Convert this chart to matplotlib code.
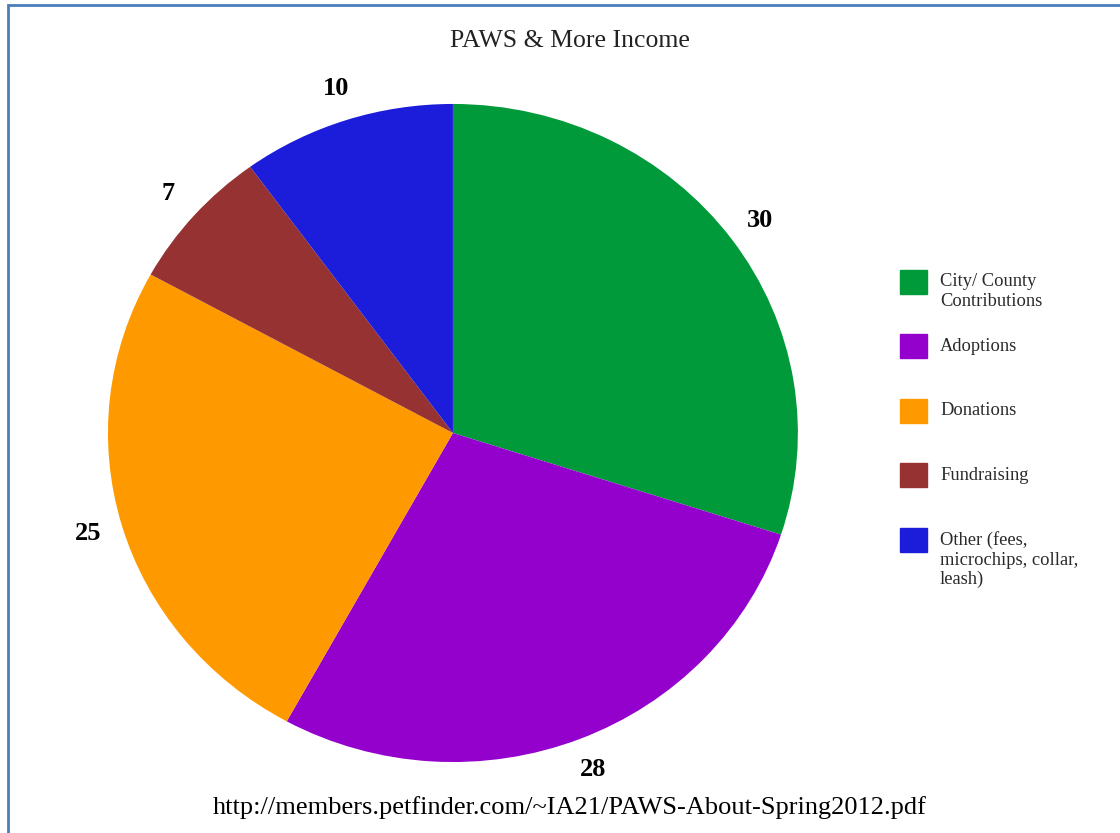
import matplotlib
matplotlib.use("Agg")
import matplotlib.pyplot as plt
from matplotlib.patches import Rectangle

categories = ["City/ County\nContributions", "Adoptions", "Donations",
              "Fundraising", "Other (fees,\nmicrochips, collar,\nleash)"]
values = [30, 28, 25, 7, 10]
colors = ["#009A3A", "#9400CC", "#FF9900", "#963232", "#1C1CDB"]

plt.rcParams['font.family'] = ['Liberation Serif', 'DejaVu Serif']

W, H = 1120, 833
fig = plt.figure(figsize=(W / 100, H / 100), dpi=100)

# blue frame around the picture
fig.patches.append(Rectangle((8 / W, -0.1), 1.2, (H - 5) / H + 0.1,
                             transform=fig.transFigure, fill=False,
                             edgecolor="#4A7EBB", linewidth=2))

ax = fig.add_axes([0.0964, 0.0852, 0.616, 0.790])
wedges, texts = ax.pie(values, labels=[str(v) for v in values], colors=colors,
                       startangle=90, counterclock=False, labeldistance=1.1,
                       textprops=dict(fontsize=19, fontweight='bold'))
for t in texts:
    t.set_ha('center')
    t.set_va('center')
ax.set_aspect('auto')
ax.set_xlim(-1, 1)
ax.set_ylim(-1, 1)

# legend: swatch + label, first label line level with the swatch
for i, (lab, c) in enumerate(zip(categories, colors)):
    top = 270 + 64.5 * i
    fig.patches.append(Rectangle((900 / W, 1 - (top + 24) / H), 27 / W, 24 / H,
                                 transform=fig.transFigure, facecolor=c,
                                 edgecolor=c))
    fig.text(940 / W, 1 - (top + 3) / H, lab, ha='left', va='top',
             fontsize=13.3, linespacing=1.2, color='#2a2a2a')

fig.text(0.509, 1 - 41 / H, "PAWS & More Income", ha='center', va='center',
         fontsize=18.5, color='#222222')
fig.text(0.509, 1 - 808 / H, "http://members.petfinder.com/~IA21/PAWS-About-Spring2012.pdf",
         ha='center', va='center', fontsize=19)

fig.savefig("out.png", dpi=100)
